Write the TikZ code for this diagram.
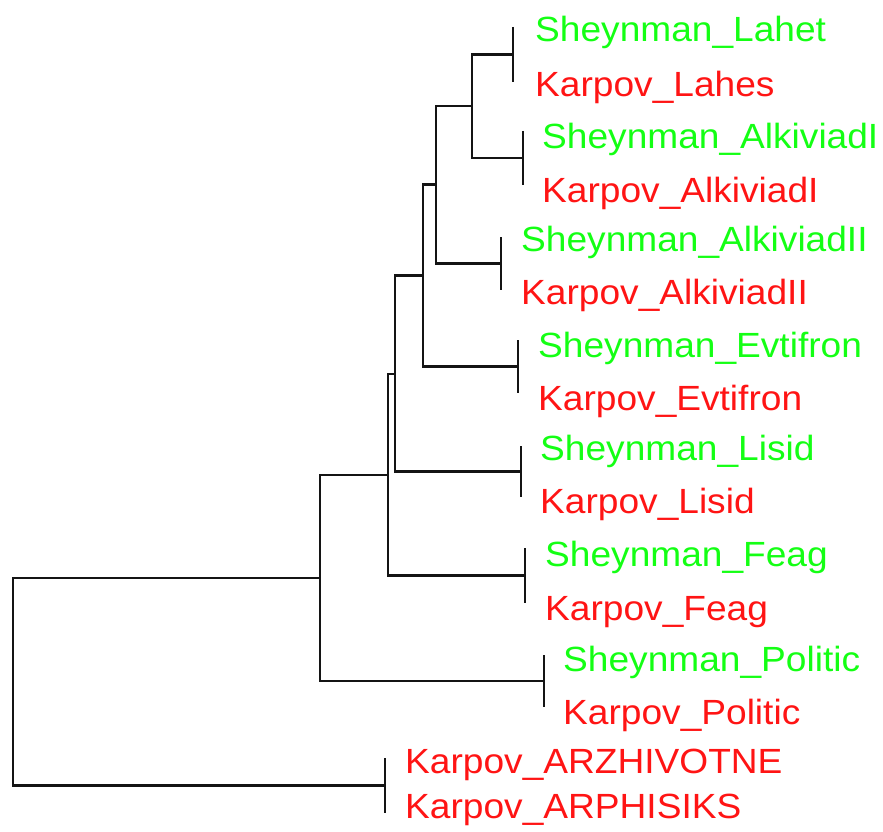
\documentclass[tikz,border=0pt]{standalone}
\usepackage{fontspec}
\setmainfont{Liberation Sans}
\definecolor{lgreen}{RGB}{20,255,20}
\definecolor{lred}{RGB}{255,20,20}
\tikzset{
  branch/.style={line width=2.2pt, draw={rgb,255:red,20;green,20;blue,20}},
  lbl/.style={anchor=base west, inner sep=0pt, xscale=1.06, font=\fontsize{35}{40}\selectfont},
  lg/.style={lbl, text=lgreen},
  lr/.style={lbl, text=lred}
}
\begin{document}
\begin{tikzpicture}[x=1pt,y=-1pt]
\useasboundingbox (0,0) rectangle (883,832);
% leaf bars
\coordinate (p1t) at (513,27);  \coordinate (p1b) at (513,82);  \coordinate (p1) at (513,54.5);
\coordinate (p2t) at (523,131); \coordinate (p2b) at (523,185); \coordinate (p2) at (523,158);
\coordinate (p3t) at (501,237); \coordinate (p3b) at (501,290); \coordinate (p3) at (501,263.5);
\coordinate (p4t) at (518,340); \coordinate (p4b) at (518,393); \coordinate (p4) at (518,366.5);
\coordinate (p5t) at (521,446); \coordinate (p5b) at (521,497); \coordinate (p5) at (521,471.5);
\coordinate (p6t) at (525,548); \coordinate (p6b) at (525,603); \coordinate (p6) at (525,575.5);
\coordinate (p7t) at (544,655); \coordinate (p7b) at (544,707); \coordinate (p7) at (544,681);
\coordinate (p8t) at (385,758); \coordinate (p8b) at (385,813); \coordinate (p8) at (385,785.5);
% internal nodes
\coordinate (nA) at (472,106);
\coordinate (nB) at (436,184.5);
\coordinate (nC) at (423,275.5);
\coordinate (nD) at (395,374);
\coordinate (nE) at (388,475);
\coordinate (nF) at (320,578);
\coordinate (nG) at (13,680);
\foreach \i in {1,...,8} {\draw[branch] (p\i t) -- (p\i b);}
\draw[branch] (p1) -| (nA) |- (p2);
\draw[branch] (nA) -| (nB) |- (p3);
\draw[branch] (nB) -| (nC) |- (p4);
\draw[branch] (nC) -| (nD) |- (p5);
\draw[branch] (nD) -| (nE) |- (p6);
\draw[branch] (nE) -| (nF) |- (p7);
\draw[branch] (nF) -| (nG) |- (p8);
% labels
\node[lg] (l1) at (535,42) {Sheynman\_Lahet};
\node[lr] (l2) at (535,97) {Karpov\_Lahes};
\node[lg] (l3) at (542,148) {Sheynman\_AlkiviadI};
\node[lr] (l4) at (542,202) {Karpov\_AlkiviadI};
\node[lg] (l5) at (521,251) {Sheynman\_AlkiviadII};
\node[lr] (l6) at (521,304) {Karpov\_AlkiviadII};
\node[lg] (l7) at (538,357) {Sheynman\_Evtifron};
\node[lr] (l8) at (538,410) {Karpov\_Evtifron};
\node[lg] (l9) at (540,460) {Sheynman\_Lisid};
\node[lr] (l10) at (540,513) {Karpov\_Lisid};
\node[lg] (l11) at (545,566) {Sheynman\_Feag};
\node[lr] (l12) at (545,620) {Karpov\_Feag};
\node[lg] (l13) at (563,671) {Sheynman\_Politic};
\node[lr] (l14) at (563,724) {Karpov\_Politic};
\node[lr] (l15) at (405,773) {Karpov\_ARZHIVOTNE};
\node[lr] (l16) at (405,818) {Karpov\_ARPHISIKS};
\end{tikzpicture}
\end{document}
